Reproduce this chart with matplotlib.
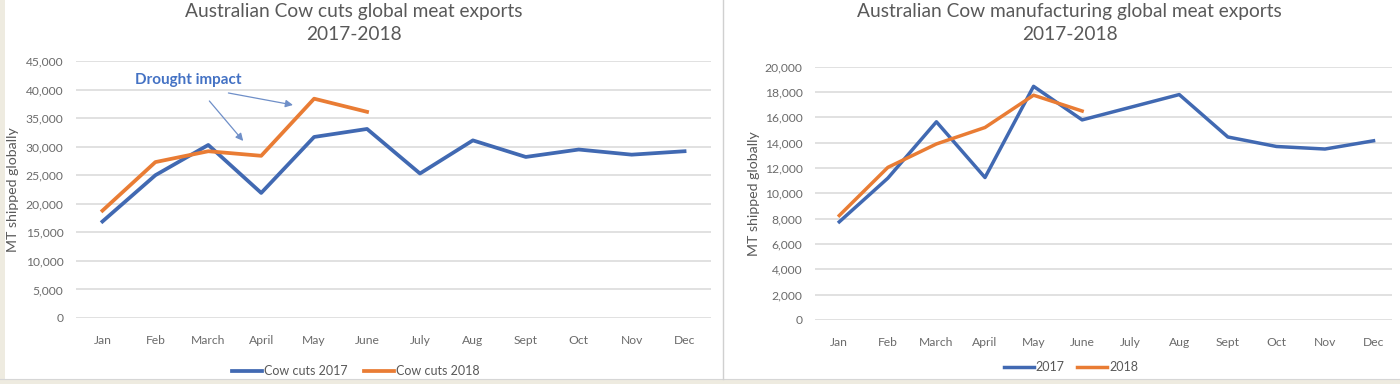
import matplotlib
matplotlib.use("Agg")
import matplotlib.pyplot as plt
from matplotlib.patches import Rectangle
from matplotlib.lines import Line2D
from matplotlib.ticker import FuncFormatter

months = ["Jan", "Feb", "March", "April", "May", "June", "July", "Aug",
          "Sept", "Oct", "Nov", "Dec"]

cuts_2017 = [16900, 25000, 30300, 21900, 31700, 33100, 25300, 31100, 28200, 29500, 28600, 29200]
cuts_2018 = [18800, 27300, 29200, 28400, 38400, 36100]

manu_2017 = [7750, 11200, 15650, 11250, 18450, 15800, 16800, 17800, 14450, 13700, 13500, 14150]
manu_2018 = [8250, 12050, 13900, 15200, 17750, 16500]

left_title = ["Australian Cow cuts global meat exports", "2017-2018"]
right_title = ["Australian Cow manufacturing global meat exports", "2017-2018"]
ylabel = "MT shipped globally"
left_legend = ["Cow cuts 2017", "Cow cuts 2018"]
right_legend = ["2017", "2018"]
annot_text = "Drought impact"

BLUE = "#4169B2"
ORANGE = "#E97C34"
TXT = "#595959"
TICK = "#6b6b6b"
GRID = "#D9D9D9"
FONT = "Lato"

W, H = 1400, 384
fig = plt.figure(figsize=(W / 100, H / 100), dpi=100)
fig.patch.set_facecolor("white")

# frame decorations
fig.patches.append(Rectangle((0, 0), 5 / W, 1, transform=fig.transFigure,
                             facecolor="#EEEBE0", edgecolor="none", zorder=0))
fig.patches.append(Rectangle((0, 0), 1, 5 / H, transform=fig.transFigure,
                             facecolor="#EEEBE0", edgecolor="none", zorder=0))
fig.lines.append(Line2D([0, 1], [5.5 / H, 5.5 / H], transform=fig.transFigure,
                        color="#D6D6D6", lw=0.8))
fig.lines.append(Line2D([722.5 / W, 722.5 / W], [5 / H, 1], transform=fig.transFigure,
                        color="#D0D0D0", lw=1.0))


def px_axes(x0, x1, ytop, ybot):
    return [x0 / W, 1 - ybot / H, (x1 - x0) / W, (ybot - ytop) / H]


fmt = FuncFormatter(lambda v, p: "0" if v == 0 else f"{int(v):,}")


def style(ax, ymax, step, xmax):
    ax.set_xlim(-0.5, xmax)
    ax.set_ylim(0, ymax)
    ax.set_yticks(range(0, ymax + 1, step))
    ax.yaxis.set_major_formatter(fmt)
    ax.set_xticks(range(len(months)))
    ax.set_xticklabels(months)
    for s in ax.spines.values():
        s.set_visible(False)
    ax.grid(axis="y", color=GRID, lw=1.1)
    ax.set_axisbelow(True)
    ax.tick_params(axis="both", length=0, colors=TICK, labelsize=8.7)
    ax.tick_params(axis="y", pad=9)
    ax.tick_params(axis="x", pad=12)
    for lab in ax.get_xticklabels() + ax.get_yticklabels():
        lab.set_fontfamily(FONT)
    ax.set_ylabel(ylabel, color=TXT, fontsize=10.2, fontfamily=FONT)


def title(xc, lines):
    fig.text(xc / W, 1 - 12 / H, lines[0], ha="center", va="center", color=TXT,
             fontsize=13.8, fontfamily=FONT)
    fig.text(xc / W, 1 - 35 / H, lines[1], ha="center", va="center", color=TXT,
             fontsize=13.8, fontfamily=FONT)


x = list(range(len(months)))

# Left chart
ax1 = fig.add_axes(px_axes(76, 711, 61, 318))
style(ax1, 45000, 5000, 11.5)
l1, = ax1.plot(x, cuts_2017, color=BLUE, lw=2.7, solid_joinstyle="round", zorder=3)
l2, = ax1.plot(x[:len(cuts_2018)], cuts_2018, color=ORANGE, lw=2.7,
               solid_joinstyle="round", zorder=3)
ax1.yaxis.set_label_coords(-(76 - 19) / 635, 0.5)
title(354, left_title)
ax1.text(0.62, 41700, annot_text, color="#4472C4", fontsize=11, fontweight="bold",
         fontfamily=FONT, ha="left", va="center")
arrow_kw = dict(arrowstyle="-|>", color="#6F8FC8", lw=0.9, mutation_scale=11,
                shrinkA=0, shrinkB=0)
ax1.annotate("", xy=(3.6, 37300), xytext=(2.38, 39400), arrowprops=arrow_kw)
ax1.annotate("", xy=(2.66, 31000), xytext=(2.02, 38000), arrowprops=arrow_kw)
fig.legend([l1, l2], left_legend, loc="center", bbox_to_anchor=(356 / W, 1 - 371 / H),
           ncol=2, frameon=False, handlelength=2.4, handletextpad=0.15,
           columnspacing=1.3, prop={"family": FONT, "size": 9}, labelcolor=TXT)

# Right chart
ax2 = fig.add_axes(px_axes(815, 1392, 66.7, 320))
style(ax2, 20000, 2000, 11.38)
r1, = ax2.plot(x, manu_2017, color=BLUE, lw=2.5, solid_joinstyle="round", zorder=3)
r2, = ax2.plot(x[:len(manu_2018)], manu_2018, color=ORANGE, lw=2.5,
               solid_joinstyle="round", zorder=3)
ax2.yaxis.set_label_coords(-(815 - 760) / 577, 0.5)
title(1069.5, right_title)
fig.legend([r1, r2], right_legend, loc="center", bbox_to_anchor=(1071 / W, 1 - 367 / H),
           ncol=2, frameon=False, handlelength=2.4, handletextpad=0.15,
           columnspacing=1.0, prop={"family": FONT, "size": 9}, labelcolor=TXT)

fig.savefig("out.png", dpi=100, facecolor="white")
